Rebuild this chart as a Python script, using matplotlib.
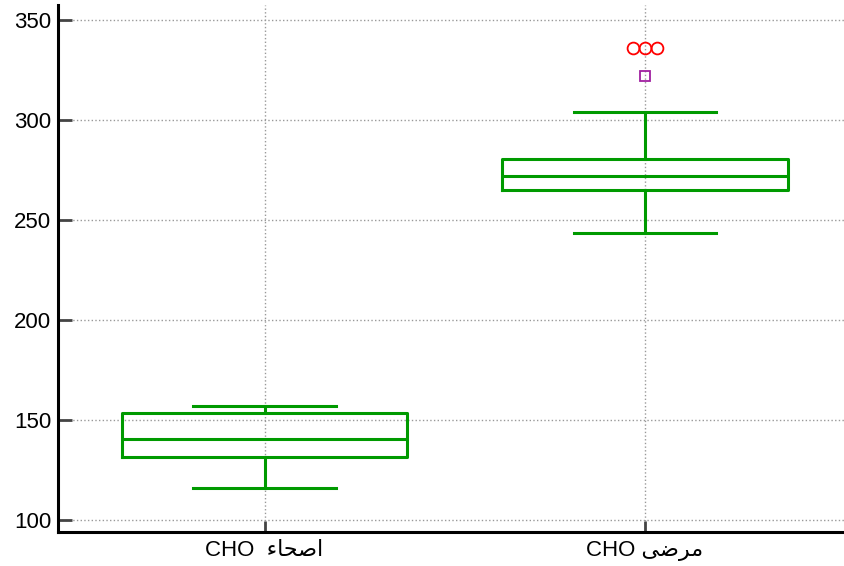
import matplotlib
matplotlib.use('Agg')
import matplotlib.pyplot as plt

# box statistics
groups = ['CHO  اصحاء', 'CHO مرضى']
q1 = [131.5, 265.0]
medians = [140.5, 272.0]
q3 = [153.5, 280.5]
whisker_lo = [116.0, 243.5]
whisker_hi = [157.0, 304.0]

# outliers of the second group
far_x = [1.969, 2.0, 2.031]
far_y = [336.0, 336.0, 336.0]
near_x = [2.0]
near_y = [322.0]

yticks = [100, 150, 200, 250, 300, 350]

green = '#009a00'
fam = ['Liberation Sans', 'DejaVu Sans']

# matplotlib does no Arabic shaping or bidi, so pick the joined letter
# forms by hand and lay the word out right to left
# letter: (isolated, final, initial, medial)
forms = {
    'ا': ('\ufe8d', '\ufe8e', None, None),
    'ر': ('\ufead', '\ufeae', None, None),
    'ء': ('\ufe80', None, None, None),
    'ص': ('\ufeb9', '\ufeba', '\ufebb', '\ufebc'),
    'ح': ('\ufea1', '\ufea2', '\ufea3', '\ufea4'),
    'م': ('\ufee1', '\ufee2', '\ufee3', '\ufee4'),
    'ض': ('\ufebd', '\ufebe', '\ufebf', '\ufec0'),
    'ى': ('\ufeef', '\ufef0', None, None),
}
dual = set('صحمض')


def shape(word):
    out = []
    for i, ch in enumerate(word):
        if ch not in forms:
            out.append(ch)
            continue
        prev = word[i - 1] if i > 0 else ''
        nxt = word[i + 1] if i + 1 < len(word) else ''
        join_prev = prev in dual and forms[ch][1] is not None
        join_next = ch in dual and nxt in forms and forms[nxt][1] is not None
        iso, fin, ini, med = forms[ch]
        if join_prev and join_next:
            out.append(med)
        elif join_prev:
            out.append(fin)
        elif join_next:
            out.append(ini)
        else:
            out.append(iso)
    return ''.join(out)[::-1]


def visual(label):
    latin, arabic = label.split(' ', 1)
    lead = ' ' * (len(arabic) - len(arabic.lstrip(' ')))
    return latin + ' ' + lead + shape(arabic.strip())


stats = []
for i in range(len(groups)):
    stats.append({'q1': q1[i], 'med': medians[i], 'q3': q3[i],
                  'whislo': whisker_lo[i], 'whishi': whisker_hi[i],
                  'fliers': []})

fig = plt.figure(figsize=(8.44, 5.66), dpi=100)
ax = fig.add_axes([0.0687, 0.06, 0.9313, 0.932])

line = dict(color=green, linewidth=2.2)
ax.bxp(stats, positions=[1, 2], widths=0.75, showfliers=False,
       boxprops=line, whiskerprops=line, capprops=line, medianprops=line)

ax.plot(far_x, far_y, 'o', mfc='none', mec='red', ms=8.5, mew=1.3)
ax.plot(near_x, near_y, 's', mfc='none', mec='#a020a0', ms=7, mew=1.3)

ax.set_xlim(0.457, 2.523)
ax.set_ylim(93.75, 357.5)
ax.set_yticks(yticks)
ax.set_xticks([1, 2])
ax.set_xticklabels([visual(g) for g in groups])

ax.grid(True, linestyle=':', color='#999999', linewidth=1)
ax.set_axisbelow(True)

for s in ['top', 'right']:
    ax.spines[s].set_visible(False)
for s in ['left', 'bottom']:
    ax.spines[s].set_linewidth(2.2)
    ax.spines[s].set_color('black')

ax.tick_params(axis='y', direction='in', length=10, width=2, color='#444444',
               pad=5, labelsize=16)
ax.tick_params(axis='x', direction='in', length=8, width=2, color='#444444',
               pad=6, labelsize=16)
for lab in ax.get_xticklabels() + ax.get_yticklabels():
    lab.set_family(fam)

fig.savefig('out.png', dpi=100)
